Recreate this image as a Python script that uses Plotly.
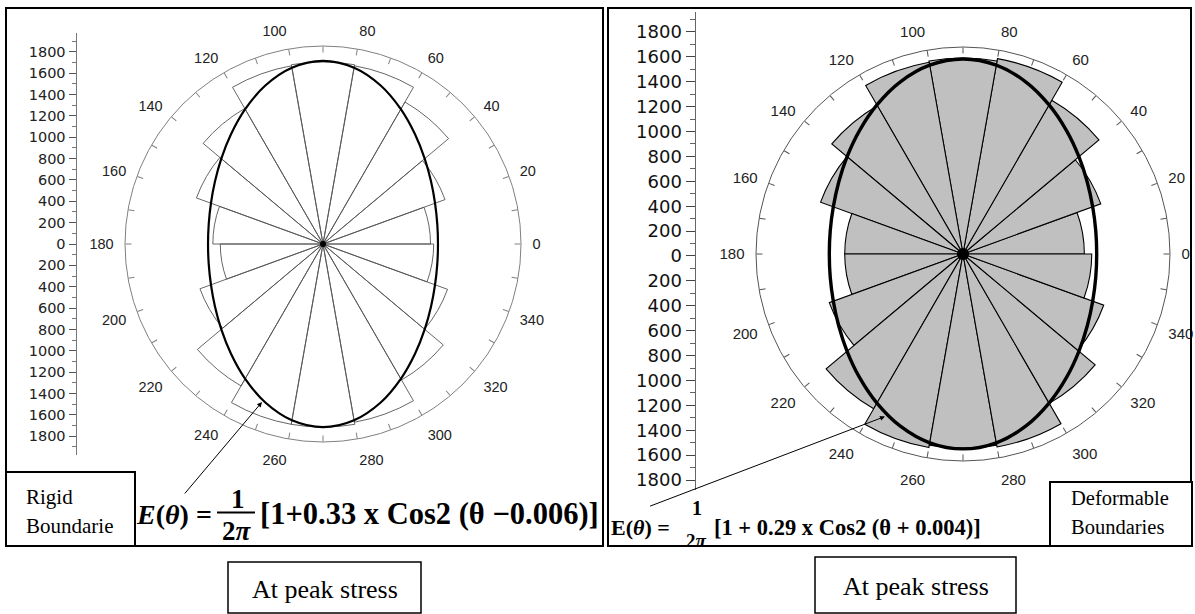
import plotly.graph_objects as go

W, H = 1195, 614

# ---------------- data ----------------
sector_centers = [10, 30, 50, 70, 90, 110, 130, 150, 170, 190, 210, 230, 250, 270, 290, 310, 330, 350]
sector_width = 20
rigid_counts = [1010, 1220, 1540, 1700, 1710, 1700, 1470, 1265, 1035,
                965, 1230, 1540, 1720, 1720, 1700, 1475, 1245, 1040]
deform_counts = [985, 1190, 1440, 1610, 1590, 1580, 1390, 1230, 960,
                 960, 1155, 1450, 1595, 1575, 1590, 1400, 1215, 1045]

fit_theta = [0, 10, 20, 30, 40, 50, 60, 70, 80, 90, 100, 110, 120, 130, 140, 150, 160, 170, 180,
             190, 200, 210, 220, 230, 240, 250, 260, 270, 280, 290, 300, 310, 320, 330, 340, 350, 360]
rigid_fit = [1080, 1090, 1120, 1172, 1247, 1345, 1462, 1584, 1681, 1720, 1681, 1584, 1462, 1345,
             1247, 1172, 1120, 1090, 1080, 1090, 1120, 1172, 1247, 1345, 1462, 1584, 1681, 1720,
             1681, 1584, 1462, 1345, 1247, 1172, 1120, 1090, 1080]
deform_fit = [1085, 1094, 1120, 1165, 1228, 1307, 1397, 1487, 1556, 1582, 1556, 1487, 1397, 1307,
              1228, 1165, 1120, 1094, 1085, 1094, 1120, 1165, 1228, 1307, 1397, 1487, 1556, 1582,
              1556, 1487, 1397, 1307, 1228, 1165, 1120, 1094, 1085]
origin_r = [0]
origin_theta = [0]

angle_tickvals = list(range(0, 360, 10))
angle_ticktext = [str(a) if a % 20 == 0 else "" for a in angle_tickvals]

scale_tickvals = [-1800, -1600, -1400, -1200, -1000, -800, -600, -400, -200, 0,
                  200, 400, 600, 800, 1000, 1200, 1400, 1600, 1800]
scale_ticktext = [str(abs(v)) for v in scale_tickvals]

rigid_rmax = 1860
deform_rmax = 1680

# ---------------- helpers ----------------
def px(x):
    return x / W

def py(y):
    return 1 - y / H

fig = go.Figure()

# left rose (rigid)
fig.add_trace(go.Barpolar(
    r=rigid_counts, theta=sector_centers, width=[sector_width] * len(sector_centers),
    marker=dict(color="rgba(255,255,255,0)", line=dict(color="#555555", width=0.9)),
    subplot="polar", showlegend=False, hoverinfo="skip"))
fig.add_trace(go.Scatterpolar(
    r=rigid_fit, theta=fit_theta, mode="lines",
    line=dict(color="black", width=2.2, shape="spline"),
    subplot="polar", showlegend=False, hoverinfo="skip"))
fig.add_trace(go.Scatterpolar(
    r=origin_r, theta=origin_theta, mode="markers",
    marker=dict(color="black", size=6),
    subplot="polar", showlegend=False, hoverinfo="skip"))

# right rose (deformable)
fig.add_trace(go.Barpolar(
    r=deform_counts, theta=sector_centers, width=[sector_width] * len(sector_centers),
    marker=dict(color="#c0c0c0", line=dict(color="black", width=1.1)),
    subplot="polar2", showlegend=False, hoverinfo="skip"))
fig.add_trace(go.Scatterpolar(
    r=deform_fit, theta=fit_theta, mode="lines",
    line=dict(color="black", width=3.4, shape="spline"),
    subplot="polar2", showlegend=False, hoverinfo="skip"))
fig.add_trace(go.Scatterpolar(
    r=origin_r, theta=origin_theta, mode="markers",
    marker=dict(color="black", size=12),
    subplot="polar2", showlegend=False, hoverinfo="skip"))

# overlay polar frames carrying the inward tick marks
for sp in ["polar3", "polar4"]:
    fig.add_trace(go.Scatterpolar(
        r=origin_r, theta=origin_theta, mode="markers", marker=dict(opacity=0),
        subplot=sp, showlegend=False, hoverinfo="skip"))

# invisible traces to carry the two linear scales
fig.add_trace(go.Scatter(x=[0] * len(scale_tickvals), y=scale_tickvals, mode="markers",
                         marker=dict(opacity=0), xaxis="x", yaxis="y",
                         showlegend=False, hoverinfo="skip"))
fig.add_trace(go.Scatter(x=[0] * len(scale_tickvals), y=scale_tickvals, mode="markers",
                         marker=dict(opacity=0), xaxis="x2", yaxis="y2",
                         showlegend=False, hoverinfo="skip"))

def angular_labels(fontsize, pad):
    return dict(
        rotation=0, direction="counterclockwise",
        tickvals=angle_tickvals, ticktext=angle_ticktext,
        ticks="outside", ticklen=pad, tickcolor="rgba(0,0,0,0)",
        showline=False, showgrid=False,
        tickfont=dict(family="Liberation Sans, Arial", size=fontsize, color="#222"),
    )

def angular_ticks(linecolor):
    return dict(
        rotation=0, direction="counterclockwise",
        tickvals=angle_tickvals, showticklabels=False,
        ticks="inside", ticklen=6, tickcolor=linecolor, tickwidth=1,
        showline=True, linecolor=linecolor, linewidth=1, showgrid=False,
    )

c1x, c1y, R1 = 323, 244, 198
c2x, c2y, R2 = 963, 254, 207
dom1 = dict(x=[px(c1x - R1), px(c1x + R1)], y=[py(c1y + R1), py(c1y - R1)])
dom2 = dict(x=[px(c2x - R2), px(c2x + R2)], y=[py(c2y + R2), py(c2y - R2)])

fig.update_layout(
    width=W, height=H,
    margin=dict(l=0, r=0, t=0, b=0),
    paper_bgcolor="white", plot_bgcolor="white",
    polar=dict(domain=dom1, bgcolor="rgba(0,0,0,0)",
               radialaxis=dict(visible=False, range=[0, rigid_rmax]),
               angularaxis=angular_labels(14.5, 8)),
    polar3=dict(domain=dom1, bgcolor="rgba(0,0,0,0)",
                radialaxis=dict(visible=False, range=[0, rigid_rmax]),
                angularaxis=angular_ticks("#808080")),
    polar2=dict(domain=dom2, bgcolor="rgba(0,0,0,0)",
                radialaxis=dict(visible=False, range=[0, deform_rmax]),
                angularaxis=angular_labels(15, 8)),
    polar4=dict(domain=dom2, bgcolor="rgba(0,0,0,0)",
                radialaxis=dict(visible=False, range=[0, deform_rmax]),
                angularaxis=angular_ticks("#555555")),
    xaxis=dict(domain=[px(76.5), px(80)], visible=False, range=[-1, 1], fixedrange=True),
    yaxis=dict(domain=[py(455), py(33)], range=[-1975, 1975], anchor="x",
               tickvals=scale_tickvals, ticktext=scale_ticktext,
               ticks="outside", ticklen=7, tickcolor="#555", tickwidth=1,
               showline=True, linecolor="#777", linewidth=1, showgrid=False, zeroline=False,
               tickfont=dict(family="DejaVu Sans", size=14.5, color="#222"),
               minor=dict(dtick=100, tick0=0, ticks="outside", ticklen=4, tickcolor="#777",
                          showgrid=False)),
    xaxis2=dict(domain=[px(695.5), px(699)], visible=False, range=[-1, 1], fixedrange=True),
    yaxis2=dict(domain=[py(490), py(12)], range=[-1880, 1960], anchor="x2",
                tickvals=scale_tickvals, ticktext=scale_ticktext,
                ticks="outside", ticklen=9, tickcolor="#444", tickwidth=1,
                showline=True, linecolor="#666", linewidth=1, showgrid=False, zeroline=False,
                tickfont=dict(family="DejaVu Sans", size=18, color="#111"),
                minor=dict(dtick=100, tick0=0, ticks="outside", ticklen=5, tickcolor="#666",
                           showgrid=False)),
)

shapes = []
def rect(x0, y0, x1, y1, width=2, fill="rgba(0,0,0,0)"):
    shapes.append(dict(type="rect", xref="paper", yref="paper",
                       x0=px(x0), x1=px(x1), y0=py(y1), y1=py(y0),
                       line=dict(color="black", width=width), fillcolor=fill, layer="above"))

# panel frames
rect(6, 8, 603, 546, 2)
rect(608, 8, 1191, 546, 2)
# label boxes
rect(6, 472, 135, 546, 2, "white")
rect(1050, 482, 1192, 546, 2, "white")
rect(228, 562, 421, 613, 1.5, "white")
rect(815, 557, 1016, 613, 1.5, "white")
# fraction bar of the left equation
shapes.append(dict(type="line", xref="paper", yref="paper",
                   x0=px(217), x1=px(255), y0=py(512.5), y1=py(512.5),
                   line=dict(color="black", width=2)))
fig.update_layout(shapes=shapes)

ann = []
def text(x, y, s, size, family="Liberation Serif", xanchor="left", color="black"):
    ann.append(dict(x=px(x), y=py(y), xref="paper", yref="paper", text=s,
                    showarrow=False, xanchor=xanchor, yanchor="middle",
                    font=dict(family=family, size=size, color=color)))

text(24, 497, "Rigid", 21)
text(24, 526, "Boundarie", 21)
text(1069, 498, "Deformable", 20.5)
text(1069, 527, "Boundaries", 20.5)
text(324.5, 589, "At peak stress", 26, xanchor="center")
text(915.5, 586, "At peak stress", 26, xanchor="center")

# left equation
text(134, 514, "<b><i>E</i>(<i>θ</i>) =</b>", 28)
text(238, 499, "<b>1</b>", 27, xanchor="center")
text(237, 531, "<b>2<i>π</i></b>", 27, xanchor="center")
text(258, 514, "<b>[1+0.33 x Cos2 (θ −0.006)]</b>", 30.5)

# right equation
text(609, 527, "<b>E(<i>θ</i>) = </b>", 22)
text(697, 508, "<b>1</b>", 20, xanchor="center")
text(696, 540, "<b>2<i>π</i></b>", 19, xanchor="center")
text(712, 527, "<b>[1 + 0.29 x Cos2 (θ + 0.004)]</b>", 22.5)

# arrows
ann.append(dict(x=px(262), y=py(402), xref="paper", yref="paper", text="",
                showarrow=True, ax=183.5 - 262, ay=495 - 402, axref="pixel", ayref="pixel",
                arrowhead=2, arrowsize=1, arrowwidth=1, arrowcolor="black"))
ann.append(dict(x=px(885), y=py(416.5), xref="paper", yref="paper", text="",
                showarrow=True, ax=648.6 - 885, ay=506.7 - 416.5, axref="pixel", ayref="pixel",
                arrowhead=2, arrowsize=1, arrowwidth=1, arrowcolor="black"))
fig.update_layout(annotations=ann)

fig.write_html("out.html", config={"displayModeBar": False},
               post_script="document.body.style.margin='0px';document.body.style.overflow='hidden';")
